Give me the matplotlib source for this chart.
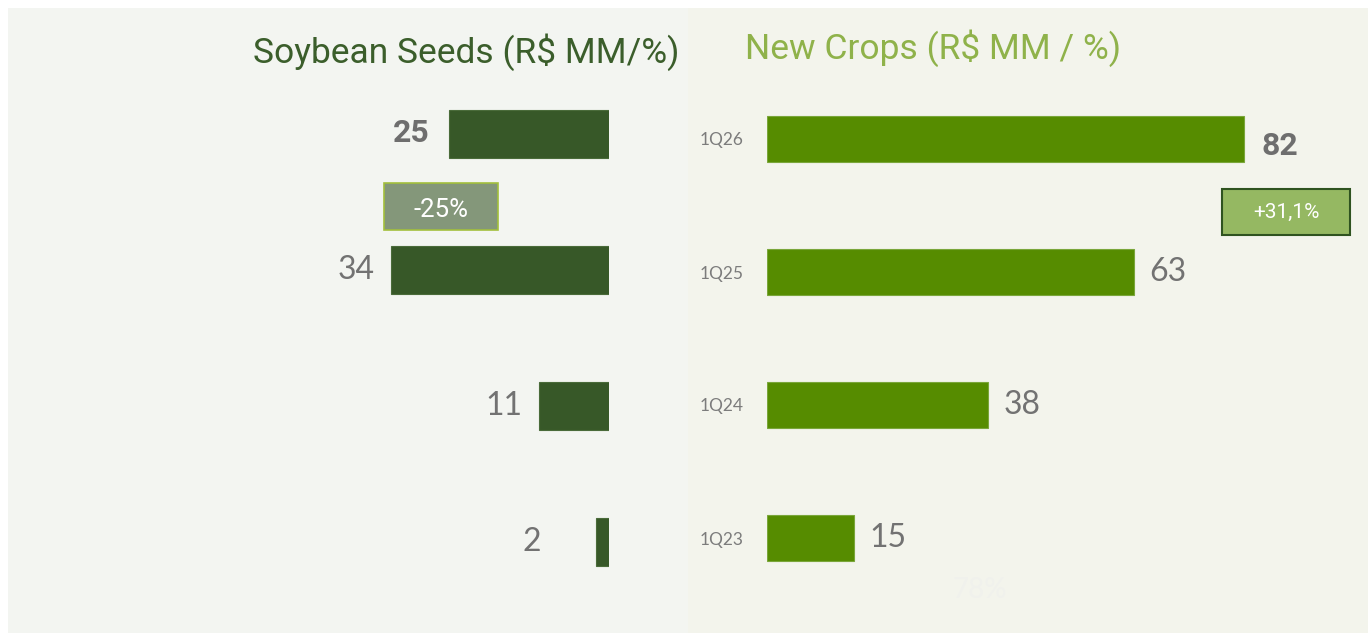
import matplotlib
matplotlib.use("Agg")
import matplotlib.pyplot as plt
from matplotlib.patches import Rectangle

# data
quarters = ["1Q26", "1Q25", "1Q24", "1Q23"]
soy_values = [25, 34, 11, 2]
crops_values = [82, 63, 38, 15]
soy_change = "-25%"
crops_change = "+31,1%"

W, H = 1372, 636
fig = plt.figure(figsize=(W / 100, H / 100), dpi=100)
fig.patch.set_facecolor("white")

def fx(px):
    return px / W

def fy(py):
    return 1 - py / H

thin = ["Lato", "DejaVu Sans"]

# panel backgrounds (behind the axes)
fig.patches.append(Rectangle((fx(8), fy(633)), fx(680), 625 / H, transform=fig.transFigure,
                             facecolor="#f3f5f1", edgecolor="none", zorder=-10))
fig.patches.append(Rectangle((fx(688), fy(633)), fx(680), 625 / H, transform=fig.transFigure,
                             facecolor="#f3f4ec", edgecolor="none", zorder=-10))

# left panel: bars grow to the left from x=609
axl = fig.add_axes([fx(8), fy(610), fx(601), 544 / H])
axl.set_facecolor("none")
ypos = list(range(len(quarters)))
axl.barh(ypos, soy_values, height=0.353, color="#375828", edgecolor="#4a6b3a", linewidth=0.8)
axl.set_xlim(601 / 6.4, 0)
axl.set_ylim(3.5, -0.5)
axl.axis("off")
for i, v in enumerate(soy_values):
    if i == 0:
        axl.text(v + 3.0, i - 0.01, str(v), ha="right", va="center", fontsize=23, color="#6e6e6e",
                 fontweight="bold", family="Roboto")
    else:
        # small bars keep their label a bit further out
        axl.text(max(v, 8) + 2.6, i, str(v), ha="right", va="center", fontsize=23,
                 color="#727272", family=thin)

# left badge
bw, bh = 114 / 6.4, 0.346
bx, by = (609 - 441) / 6.4, 0.53
axl.add_patch(Rectangle((bx - bw / 2, by - bh / 2), bw, bh, facecolor="#84977a",
                        edgecolor="#a3bf3c", linewidth=1.2, zorder=3))
axl.text(bx, by + 0.03, soy_change, ha="center", va="center", fontsize=18.5, color="white",
         family="Roboto", zorder=4)

# right panel: bars grow to the right from x=767
axr = fig.add_axes([fx(767), fy(604.5), fx(601), 532 / H])
axr.set_facecolor("none")
axr.barh(ypos, crops_values, height=0.353, color="#568c00", edgecolor="#7aa63a", linewidth=0.8)
axr.set_xlim(0, 601 / 5.82)
axr.set_ylim(3.5, -0.5)
for s in axr.spines.values():
    s.set_visible(False)
axr.set_xticks([])
axr.set_yticks(ypos)
axr.set_yticklabels(quarters, fontsize=12.5, color="#7c7c7c", family=thin)
axr.tick_params(axis="y", length=0, pad=17)
for i, v in enumerate(crops_values):
    if i == 0:
        axr.text(v + 3.0, i + 0.05, str(v), ha="left", va="center", fontsize=23, color="#6e6e6e",
                 fontweight="bold", family="Roboto")
    else:
        axr.text(v + 2.6, i, str(v), ha="left", va="center", fontsize=23, color="#727272",
                 family=thin)

# right badge
bw2, bh2 = 128 / 5.82, 0.346
bx2, by2 = (1286 - 767) / 5.82, 0.549
axr.add_patch(Rectangle((bx2 - bw2 / 2, by2 - bh2 / 2), bw2, bh2, facecolor="#95b862",
                        edgecolor="#2f5320", linewidth=1.5, zorder=3, clip_on=False))
axr.text(bx2, by2, crops_change, ha="center", va="center", fontsize=15, color="white",
         family="Roboto", zorder=4, clip_on=False)

# faint leftover label
fig.text(fx(980), fy(590), "78%", ha="center", va="center", fontsize=20, color="#f0f1ec",
         family=thin)

# titles
fig.text(fx(253), fy(52), "Soybean Seeds (R$ MM/%)", ha="left", va="center", fontsize=25.5,
         color="#3b5e2b", family="Roboto")
fig.text(fx(745), fy(48), "New Crops (R$ MM / %)", ha="left", va="center", fontsize=25.5,
         color="#8fb24a", family="Roboto")

fig.savefig("out.png", dpi=100, facecolor="white")
